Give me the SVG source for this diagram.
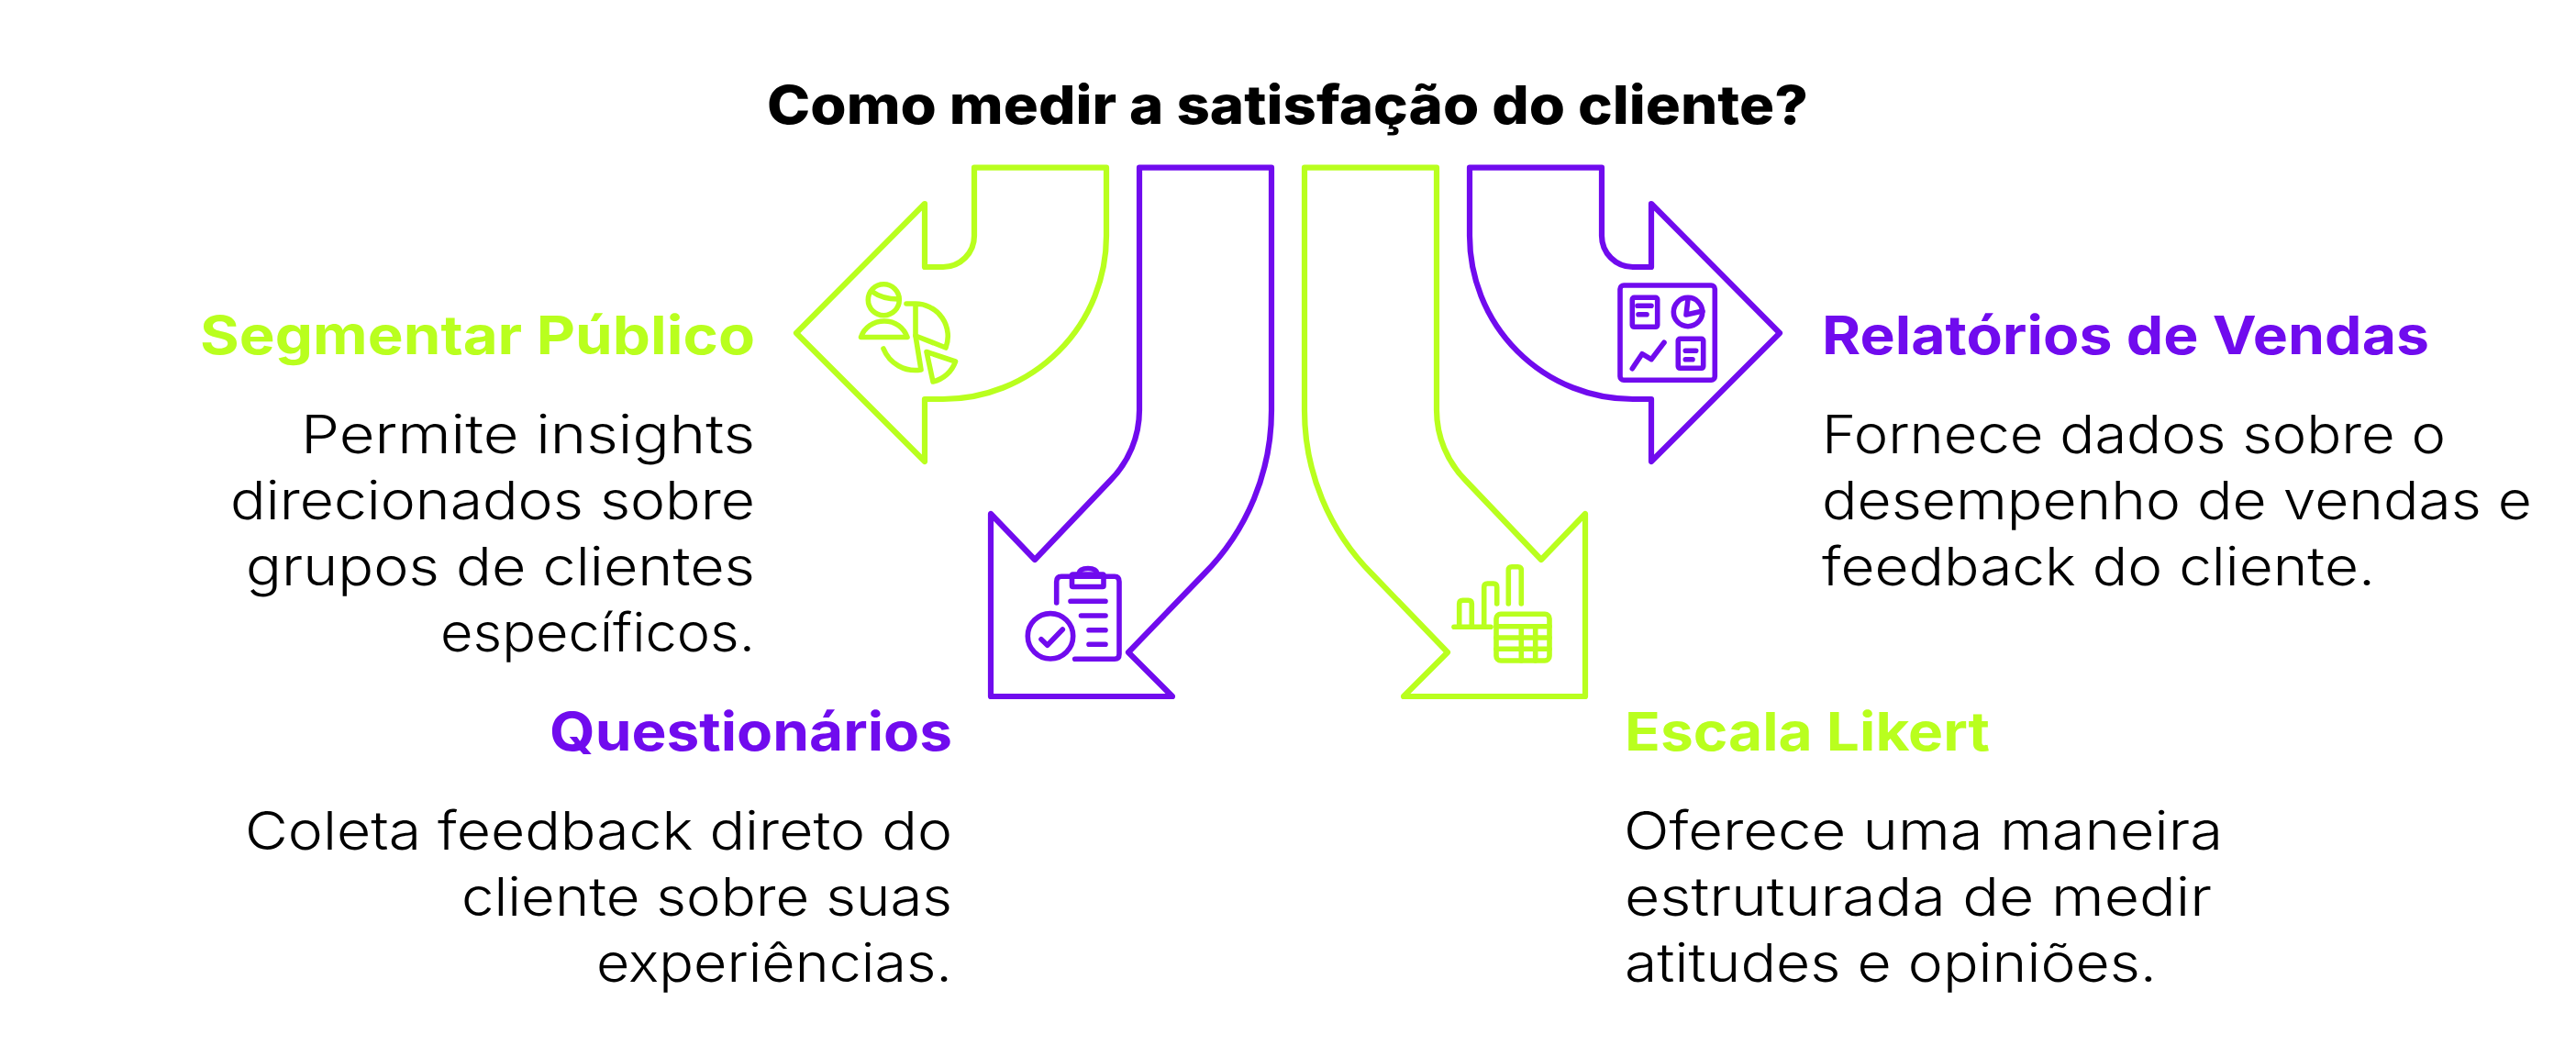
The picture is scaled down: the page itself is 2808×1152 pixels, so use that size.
<svg xmlns="http://www.w3.org/2000/svg" width="2808" height="1152" viewBox="0 0 2808 1152">
<style>
text{font-family:"Inter","Liberation Sans",sans-serif;fill:#000}
.t{font-size:58px;font-weight:800;letter-spacing:0}
.h{font-size:58px;font-weight:700}
.b{font-size:58px;font-weight:300}
.gt{fill:#b9ff1e}.pt{fill:#700bee}
.g,.p{fill:none;stroke-linejoin:round;stroke-linecap:round}
.g{stroke:#b9ff1e}.p{stroke:#700bee}
.a{stroke-width:6.2}.i{stroke-width:5.6}
</style>
<rect width="2808" height="1152" fill="#fff"/>
<text class="t" x="836" y="135" textLength="1135" lengthAdjust="spacingAndGlyphs">Como medir a satisfação do cliente?</text>
<g id="connectors"/>
<g id="segmentar">
<path class="g a" d="M1062 182.7V257A34 34 0 0 1 1028 291H1008V222L868 363L1008 503V435H1028A178 178 0 0 0 1206 257V182.7Z"/>
<g class="g i">
<circle cx="963.3" cy="326.7" r="17"/>
<path d="M951 318Q962 326 979 326"/>
<path d="M938.5 367.5C942 357 952 350 964 350C976 350 985 357 989 367.5Z"/>
<path d="M988 331H998V366L1031 379A35.5 35.5 0 0 0 998 331"/>
<path d="M963 380A37.5 37.5 0 0 0 1004 403L998 366"/>
<path d="M1010 383.5L1041.5 394A34 34 0 0 1 1017 416Z"/>
</g>
<text class="h gt" x="218" y="386.4" textLength="605" lengthAdjust="spacingAndGlyphs">Segmentar Público</text>
<text class="b" x="328" y="494.4" textLength="495" lengthAdjust="spacingAndGlyphs">Permite insights</text>
<text class="b" x="251" y="566.4" textLength="572" lengthAdjust="spacingAndGlyphs">direcionados sobre</text>
<text class="b" x="268" y="638.4" textLength="555" lengthAdjust="spacingAndGlyphs">grupos de clientes</text>
<text class="b" x="480" y="710.4" textLength="343" lengthAdjust="spacingAndGlyphs">específicos.</text>
</g>
<g id="questionarios">
<path class="p a" d="M1242 182.7V447A109 109 0 0 1 1210 524L1128 610L1080 560V759H1278L1230 711L1312 626A253 253 0 0 0 1386 447V182.7Z"/>
<g class="p i">
<path d="M1151.7 657V634Q1151.7 628.3 1157 628.3H1215Q1220 628.3 1220 634V713Q1220 718.3 1215 718.3H1171.7"/>
<rect x="1168.5" y="626" width="34.5" height="13.5" rx="1"/>
<path d="M1176 625Q1177 619.5 1186 619.5Q1195 619.5 1196 625"/>
<path d="M1167 655.3H1205M1178.5 671H1205M1187 686.7H1205M1187 702.3H1205"/>
<circle cx="1145" cy="693.3" r="24.7"/>
<path d="M1135 696.7L1141.7 703.3L1158.3 686"/>
</g>
<text class="h pt" x="599" y="818.4" textLength="439" lengthAdjust="spacingAndGlyphs">Questionários</text>
<text class="b" x="267" y="926.4" textLength="771" lengthAdjust="spacingAndGlyphs">Coleta feedback direto do</text>
<text class="b" x="503" y="998.4" textLength="535" lengthAdjust="spacingAndGlyphs">cliente sobre suas</text>
<text class="b" x="650" y="1070.4" textLength="388" lengthAdjust="spacingAndGlyphs">experiências.</text>
</g>
<g id="escala">
<path class="g a" d="M1566 182.7V447A109 109 0 0 0 1598 524L1680 610L1728 560V759H1530L1578 711L1496 626A253 253 0 0 1 1422 447V182.7Z"/>
<g class="g i">
<path d="M1585 683.3H1625"/>
<path d="M1590.7 683V658Q1590.7 654.3 1594.5 654.3H1600.5Q1604.3 654.3 1604.3 658V683"/>
<path d="M1617.7 683V640Q1617.7 636 1621.5 636H1628Q1631.7 636 1631.7 640V658"/>
<path d="M1644.3 658V621.5Q1644.3 617.7 1648 617.7H1654.5Q1658.3 617.7 1658.3 621.5V658"/>
<rect x="1631" y="669.3" width="58" height="50.7" rx="5"/>
<path d="M1631 682.7H1689M1631 695H1689M1631 707.3H1689M1658.3 682.7V720M1673.7 682.7V720"/>
</g>
<text class="h gt" x="1771" y="818.4" textLength="398" lengthAdjust="spacingAndGlyphs">Escala Likert</text>
<text class="b" x="1770" y="926.4" textLength="653" lengthAdjust="spacingAndGlyphs">Oferece uma maneira</text>
<text class="b" x="1771" y="998.4" textLength="640" lengthAdjust="spacingAndGlyphs">estruturada de medir</text>
<text class="b" x="1771" y="1070.4" textLength="580" lengthAdjust="spacingAndGlyphs">atitudes e opiniões.</text>
</g>
<g id="relatorios">
<path class="p a" d="M1746 182.7V257A34 34 0 0 0 1780 291H1800V222L1940 363L1800 503V435H1780A178 178 0 0 1 1602 257V182.7Z"/>
<g class="p i">
<rect x="1766" y="311" width="103.3" height="103.3" rx="4"/>
<rect x="1779.3" y="324.3" width="27.4" height="32" rx="2"/>
<path d="M1785 333.3H1800M1786 342.7H1795"/>
<circle cx="1840" cy="340" r="15.7"/>
<path d="M1840 326L1838 343L1856 339"/>
<rect x="1829.3" y="369.3" width="27.4" height="32" rx="2"/>
<path d="M1837.3 382.3H1848.7M1837.3 391.7H1845"/>
<path d="M1779.3 401.7L1790 385.7L1800 391.7L1814 373.3"/>
</g>
<text class="h pt" x="1986" y="386.4" textLength="662" lengthAdjust="spacingAndGlyphs">Relatórios de Vendas</text>
<text class="b" x="1986" y="494.4" textLength="680" lengthAdjust="spacingAndGlyphs">Fornece dados sobre o</text>
<text class="b" x="1986" y="566.4" textLength="774" lengthAdjust="spacingAndGlyphs">desempenho de vendas e</text>
<text class="b" x="1986" y="638.4" textLength="603" lengthAdjust="spacingAndGlyphs">feedback do cliente.</text>
</g>
</svg>
